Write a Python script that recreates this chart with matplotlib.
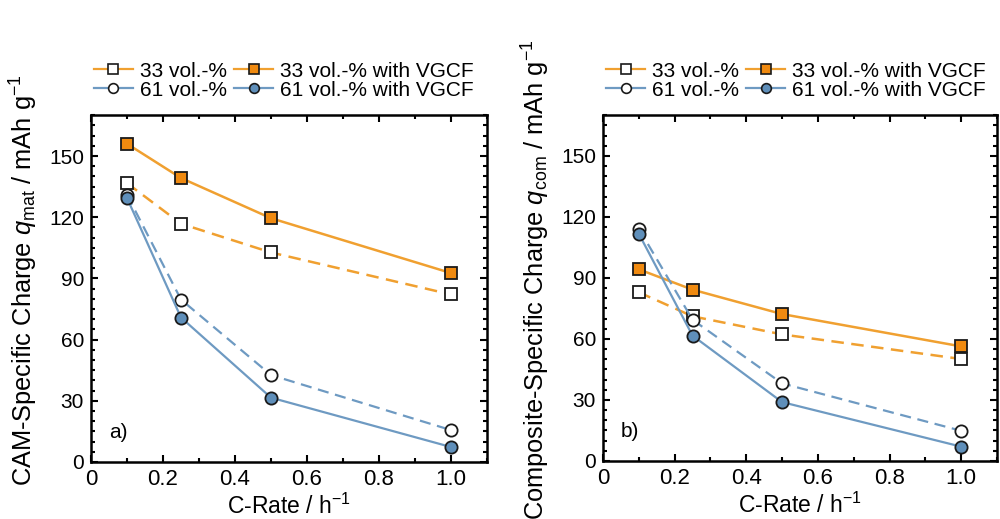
import matplotlib
matplotlib.use("Agg")
import matplotlib.pyplot as plt
from matplotlib.ticker import MultipleLocator
from matplotlib.lines import Line2D

plt.rcParams['font.family'] = ['Liberation Sans', 'DejaVu Sans']
plt.rcParams['mathtext.fontset'] = 'custom'
plt.rcParams['mathtext.rm'] = 'Liberation Sans'
plt.rcParams['mathtext.it'] = 'Liberation Sans:italic'

# ---- data ----
c_rate = [0.1, 0.25, 0.5, 1.0]

# panel a) CAM-specific charge
a_33 = [136.7, 116.8, 102.7, 82.1]
a_33_vgcf = [156.0, 139.2, 119.5, 92.6]
a_61 = [131.0, 79.6, 42.6, 15.6]
a_61_vgcf = [129.4, 70.8, 31.5, 7.3]

# panel b) composite-specific charge
b_33 = [82.9, 71.1, 62.2, 50.1]
b_33_vgcf = [94.2, 84.2, 72.2, 56.3]
b_61 = [114.2, 69.4, 38.1, 14.8]
b_61_vgcf = [111.7, 61.6, 28.9, 7.0]

labels = ['33 vol.-%', '61 vol.-%', '33 vol.-% with VGCF', '61 vol.-% with VGCF']
x_ticks = [0, 0.2, 0.4, 0.6, 0.8, 1.0]
x_ticklabels = ['0', '0.2', '0.4', '0.6', '0.8', '1.0']
y_ticks = [0, 30, 60, 90, 120, 150]

orange_line = '#F0A030'
orange_fill = '#F08A10'
blue_line = '#6E9AC2'
blue_fill = '#5F8FBA'
edge = '#1a1a1a'

fig = plt.figure(figsize=(10, 5.19), dpi=100)
ax1 = fig.add_axes([0.091, 0.110, 0.396, 0.668])
ax2 = fig.add_axes([0.603, 0.112, 0.394, 0.666])


def draw(ax, s33, s33v, s61, s61v, ylabel, tag):
    dash = (0, (5, 3))
    ms = 8.8
    mew = 1.3
    ax.plot(c_rate, s33, linestyle=dash, color=orange_line, lw=1.8,
            marker='s', ms=ms, mfc='white', mec=edge, mew=mew)
    ax.plot(c_rate, s33v, linestyle='-', color=orange_line, lw=1.8,
            marker='s', ms=ms, mfc=orange_fill, mec=edge, mew=mew)
    ax.plot(c_rate, s61, linestyle=dash, color=blue_line, lw=1.6,
            marker='o', ms=ms, mfc='white', mec=edge, mew=mew)
    ax.plot(c_rate, s61v, linestyle='-', color=blue_line, lw=1.6,
            marker='o', ms=ms, mfc=blue_fill, mec=edge, mew=mew)
    ax.set_xlim(0, 1.1)
    ax.set_ylim(0, 170)
    ax.set_xticks(x_ticks)
    ax.set_xticklabels(x_ticklabels)
    ax.set_yticks(y_ticks)
    ax.xaxis.set_minor_locator(MultipleLocator(0.1))
    ax.yaxis.set_minor_locator(MultipleLocator(5))
    ax.tick_params(which='both', direction='in', top=True, right=True,
                   labelsize=15, width=1.5)
    ax.tick_params(axis='x', labelsize=16)
    ax.tick_params(which='major', length=5, pad=5)
    ax.tick_params(which='minor', length=3)
    for sp in ax.spines.values():
        sp.set_linewidth(1.8)
    ax.set_xlabel('C-Rate / h$^{-1}$', fontsize=16.5, labelpad=3)
    ax.set_ylabel(ylabel, fontsize=18.3)
    ax.yaxis.set_label_coords(-0.13, 0.525)
    ax.text(0.045, 0.085, tag, transform=ax.transAxes, fontsize=15,
            va='center', ha='left')
    hs = [
        Line2D([], [], color=orange_line, lw=1.6, marker='s', ms=7,
               mfc='white', mec=edge, mew=1.2),
        Line2D([], [], color=blue_line, lw=1.6, marker='o', ms=7,
               mfc='white', mec=edge, mew=1.2),
        Line2D([], [], color=orange_line, lw=1.6, marker='s', ms=7,
               mfc=orange_fill, mec=edge, mew=1.2),
        Line2D([], [], color=blue_line, lw=1.6, marker='o', ms=7,
               mfc=blue_fill, mec=edge, mew=1.2),
    ]
    ax.legend(hs, labels, ncol=2, loc='lower left',
              bbox_to_anchor=(-0.03, 1.003), frameon=False, fontsize=15,
              handlelength=1.9, handletextpad=0.3, columnspacing=0.35,
              labelspacing=0.0, borderaxespad=0.3)


draw(ax1, a_33, a_33_vgcf, a_61, a_61_vgcf,
     'CAM-Specific Charge $\\it{q}$$_{\\mathrm{mat}}$ / mAh g$^{-1}$', 'a)')
draw(ax2, b_33, b_33_vgcf, b_61, b_61_vgcf,
     'Composite-Specific Charge $\\it{q}$$_{\\mathrm{com}}$ / mAh g$^{-1}$', 'b)')

fig.savefig('out.png', dpi=100)
